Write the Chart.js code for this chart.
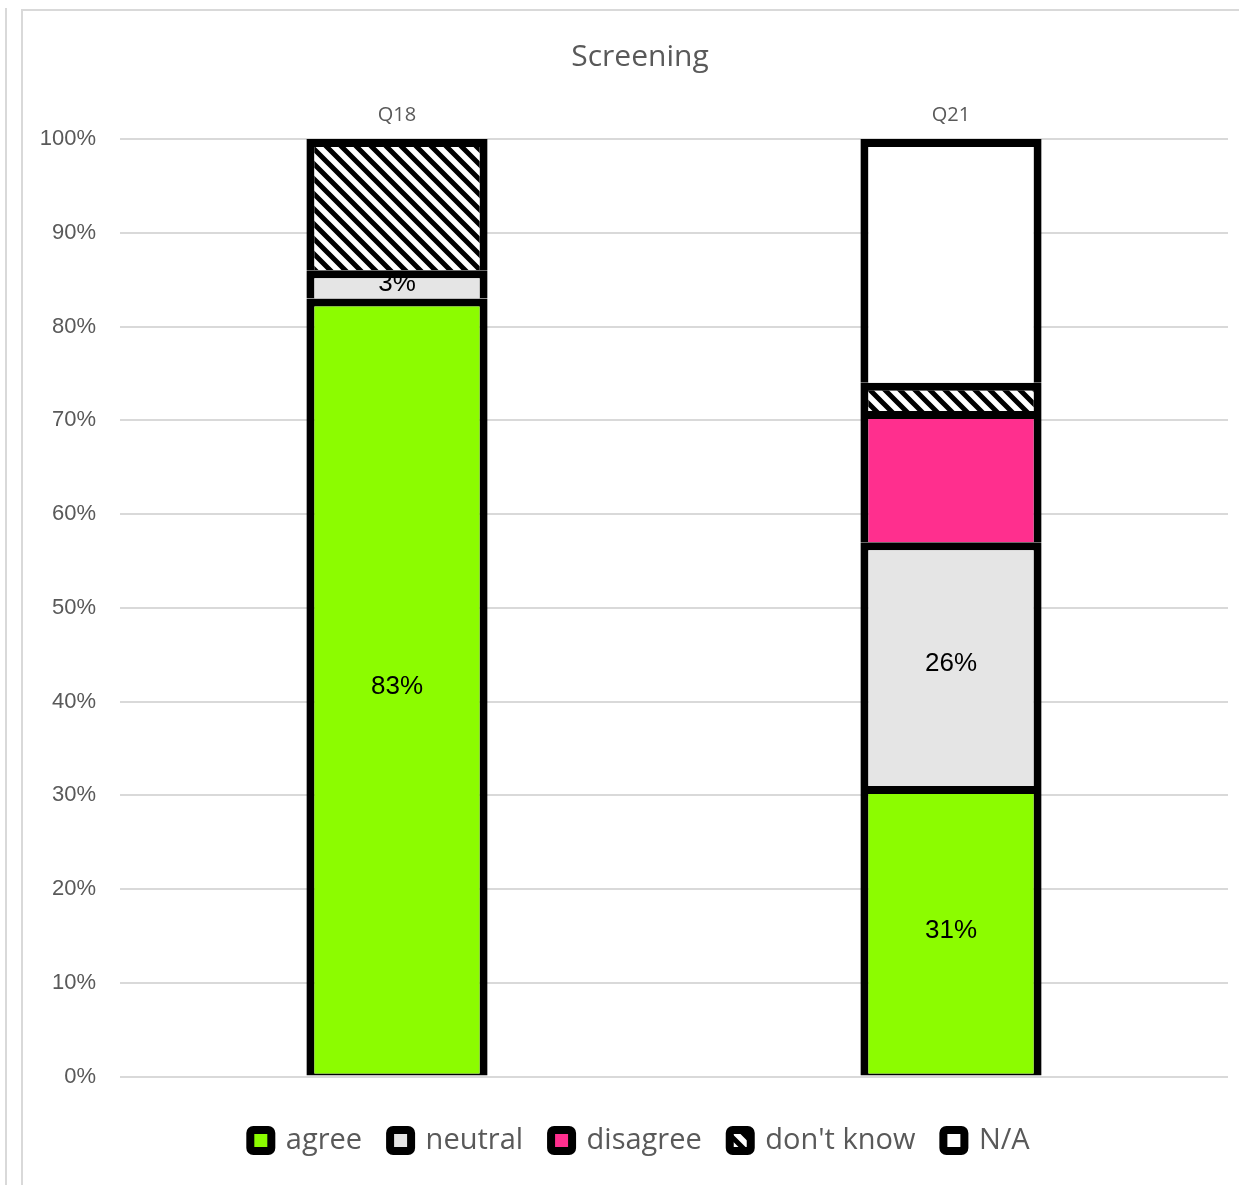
<!DOCTYPE html>
<html>
<head>
<meta charset="utf-8">
<title>Screening</title>
<script src="https://cdn.jsdelivr.net/npm/chart.js@4/dist/chart.umd.min.js"></script>
<style>
    html, body { margin: 0; padding: 0; background: #fff; overflow: hidden; width: 1239px; height: 1185px; }
    .edge { position: absolute; left: 5px; top: 8px; bottom: 0; border-left: 2px solid #d9d9d9; }
    .frame { position: absolute; left: 21px; top: 9px; right: -60px; bottom: -60px; border: 2px solid #d9d9d9; }
    #chart { position: absolute; left: 0; top: 0; }
</style>
</head>
<body>
<div class="edge"></div>
<div class="frame"></div>
<canvas id="chart" width="1258" height="1185"></canvas>
<script>
        // values (percent of answers)
        const categories = ['Q18', 'Q21'];
        const seriesNames = ['agree', 'neutral', 'disagree', "don't know", 'N/A'];
        const agree = [83, 31];
        const neutral = [3, 26];
        const disagree = [0, 14];
        const dontKnow = [14, 3];
        const notApplicable = [0, 26];
        const labeledSeries = ['agree', 'neutral'];
        const yTickStep = 10;

        const greyText = '#595959';

        function makeHatch(ctx) {
            const size = 15;
            const c = document.createElement('canvas');
            c.width = size;
            c.height = size;
            const g = c.getContext('2d');
            g.fillStyle = '#fff';
            g.fillRect(0, 0, size, size);
            g.strokeStyle = '#000';
            g.lineWidth = 5;
            g.beginPath();
            g.moveTo(-2, -2);
            g.lineTo(size + 2, size + 2);
            g.moveTo(size - 4, -4);
            g.lineTo(size + 4, 4);
            g.moveTo(-4, size - 4);
            g.lineTo(4, size + 4);
            g.stroke();
            return ctx.createPattern(c, 'repeat');
        }

        // draws the percentage inside the labelled segments
        const segmentLabels = {
            id: 'segmentLabels',
            afterDatasetsDraw(chart) {
                const ctx = chart.ctx;
                ctx.save();
                ctx.font = '26px "Liberation Sans", Arial, sans-serif';
                ctx.fillStyle = '#000';
                ctx.textAlign = 'center';
                ctx.textBaseline = 'middle';
                chart.data.datasets.forEach((ds, i) => {
                    if (!labeledSeries.includes(ds.label)) return;
                    chart.getDatasetMeta(i).data.forEach((bar, j) => {
                        const v = ds.data[j];
                        if (!v) return;
                        ctx.fillText(v + '%', bar.x, (bar.y + bar.base) / 2);
                    });
                });
                ctx.restore();
            }
        };

        const canvas = document.getElementById('chart');
        const ctx = canvas.getContext('2d');
        const hatch = makeHatch(ctx);

        const fills = ['#8cfc00', '#e5e5e5', '#ff2f8e', hatch, '#ffffff'];
        const values = [agree, neutral, disagree, dontKnow, notApplicable];

        const datasets = seriesNames.map((name, i) => ({
            label: name,
            data: values[i],
            backgroundColor: fills[i],
            borderColor: '#000',
            borderWidth: { top: 8, left: 8, right: 8, bottom: i === 0 ? 2 : 0 },
            borderSkipped: false,
            barPercentage: 0.327,
            categoryPercentage: 1
        }));

        new Chart(ctx, {
            type: 'bar',
            data: {
                labels: categories,
                datasets: datasets
            },
            options: {
                responsive: false,
                animation: false,
                layout: {
                    padding: { left: 22, top: 10, right: 0, bottom: 20 }
                },
                plugins: {
                    title: {
                        display: true,
                        text: 'Screening',
                        color: greyText,
                        font: { family: 'Open Sans', size: 30, weight: 'normal' },
                        padding: { top: 29, bottom: 14 }
                    },
                    legend: {
                        position: 'bottom',
                        labels: {
                            color: greyText,
                            font: { family: 'Open Sans', size: 29 },
                            boxWidth: 21,
                            boxHeight: 21,
                            padding: 28,
                            generateLabels: chart => chart.data.datasets.map((ds, i) => ({
                                text: ds.label,
                                fillStyle: ds.backgroundColor,
                                strokeStyle: '#000',
                                lineWidth: 8,
                                lineJoin: 'round',
                                borderRadius: 3,
                                fontColor: greyText,
                                hidden: false,
                                datasetIndex: i
                            }))
                        }
                    },
                    tooltip: { enabled: false }
                },
                scales: {
                    x: {
                        position: 'top',
                        stacked: true,
                        grid: { display: false },
                        border: { display: false },
                        ticks: {
                            color: greyText,
                            font: { family: 'Open Sans', size: 20 },
                            padding: 4
                        },
                        afterFit: s => { s.height = 50; }
                    },
                    x2: {
                        type: 'category',
                        position: 'bottom',
                        grid: { display: false },
                        border: { display: false },
                        ticks: { display: false },
                        afterFit: s => { s.height = 21.5; }
                    },
                    y: {
                        stacked: true,
                        min: 0,
                        max: 100,
                        ticks: {
                            stepSize: yTickStep,
                            callback: v => v + '%',
                            color: greyText,
                            font: { family: 'Liberation Sans', size: 22 },
                            padding: 24
                        },
                        grid: { color: '#d9d9d9', lineWidth: 2, drawTicks: false },
                        border: { display: false },
                        afterFit: s => { s.width = 98; }
                    },
                    y2: {
                        position: 'right',
                        grid: { display: false },
                        border: { display: false },
                        ticks: { display: false },
                        afterFit: s => { s.width = 30; }
                    }
                }
            },
            plugins: [segmentLabels]
        });
</script>
</body>
</html>
